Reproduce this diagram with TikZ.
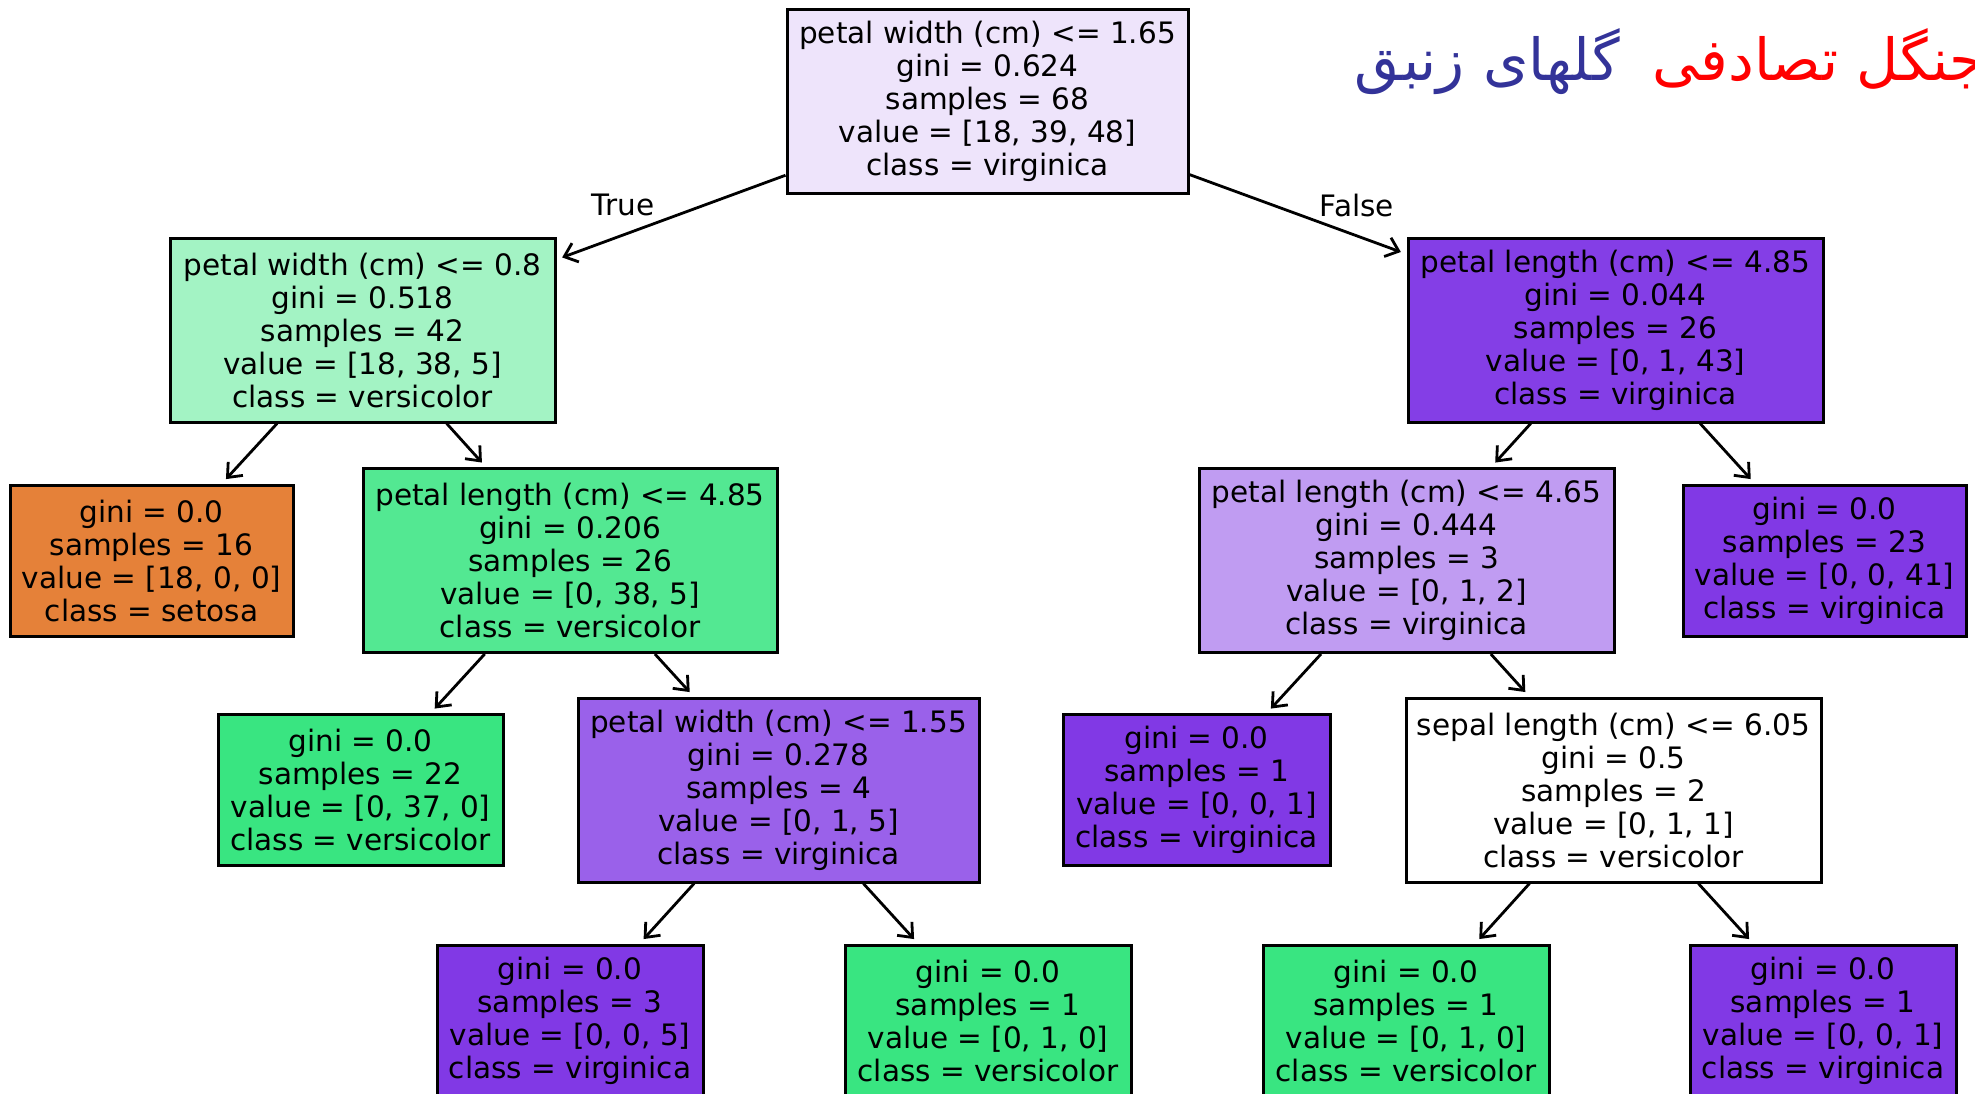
\documentclass[tikz,border=0pt]{standalone}
\usepackage{fontspec}
\setmainfont{DejaVu Sans}
\newfontfamily\arabicfont[Script=Arabic]{DejaVu Sans}
\TeXXeTstate=1
\usetikzlibrary{arrows.meta}

% fill colours of the tree nodes (class colour blended with white by purity)
\definecolor{cRoot}{RGB}{238,228,251}
\definecolor{cVersLight}{RGB}{163,243,196}
\definecolor{cVersMid}{RGB}{83,232,146}
\definecolor{cVers}{RGB}{57,229,129}
\definecolor{cVirg}{RGB}{129,57,229}
\definecolor{cVirgR}{RGB}{132,62,230}
\definecolor{cVirgMid}{RGB}{154,97,234}
\definecolor{cVirgLight}{RGB}{192,156,242}
\definecolor{cSetosa}{RGB}{229,129,57}
\definecolor{titleRed}{RGB}{255,0,0}
\definecolor{titleBlue}{RGB}{51,51,153}

\begin{document}
\begin{tikzpicture}[x=1pt,y=-1pt,
  treebox/.style={draw=black, line width=3pt, inner sep=0pt, align=center,
                  font=\fontsize{29.5}{33}\selectfont},
  split/.style={treebox, minimum height=184pt},
  leaf/.style={treebox, minimum height=151pt},
  edge/.style={-{Straight Barb[length=12pt,width=20pt,line width=2.8pt]},
               line width=2.8pt, shorten >=6pt},
  lbl/.style={font=\fontsize{29.5}{33}\selectfont},
  heading/.style={inner sep=0pt, font=\fontsize{58}{70}\arabicfont}
]
\useasboundingbox (0,0) rectangle (1975,1093);
\clip (0,0) rectangle (1975,1093);

% heading
\node[heading, text=titleRed, anchor=base west] (hRed) at (1652,80)
  {\beginR جنگل تصادفی\endR};
\node[heading, text=titleBlue, anchor=base east] (hBlue) at (1620,80)
  {\beginR گلهای زنبق\endR};

% level 0
\node[split, fill=cRoot, minimum width=401pt] (root) at (987.5,101)
  {petal width (cm) <= 1.65\\gini = 0.624\\samples = 68\\value = [18, 39, 48]\\class = virginica};

% level 1
\node[split, fill=cVersLight, minimum width=385pt] (l1) at (362.5,330)
  {petal width (cm) <= 0.8\\gini = 0.518\\samples = 42\\value = [18, 38, 5]\\class = versicolor};
\node[split, fill=cVirgR, minimum width=415pt] (r1) at (1615.5,330)
  {petal length (cm) <= 4.85\\gini = 0.044\\samples = 26\\value = [0, 1, 43]\\class = virginica};

% level 2
\node[leaf, fill=cSetosa, minimum width=283pt] (setosa) at (151.5,560.5)
  {gini = 0.0\\samples = 16\\value = [18, 0, 0]\\class = setosa};
\node[split, fill=cVersMid, minimum width=414pt] (pla) at (570,560.5)
  {petal length (cm) <= 4.85\\gini = 0.206\\samples = 26\\value = [0, 38, 5]\\class = versicolor};
\node[split, fill=cVirgLight, minimum width=415pt] (plb) at (1406.5,560.5)
  {petal length (cm) <= 4.65\\gini = 0.444\\samples = 3\\value = [0, 1, 2]\\class = virginica};
\node[leaf, fill=cVirg, minimum width=283pt] (lf23) at (1824.5,560.5)
  {gini = 0.0\\samples = 23\\value = [0, 0, 41]\\class = virginica};

% level 3
\node[leaf, fill=cVers, minimum width=285pt] (lf22) at (360.5,790)
  {gini = 0.0\\samples = 22\\value = [0, 37, 0]\\class = versicolor};
\node[split, fill=cVirgMid, minimum width=401pt] (pw) at (778.5,790)
  {petal width (cm) <= 1.55\\gini = 0.278\\samples = 4\\value = [0, 1, 5]\\class = virginica};
\node[leaf, fill=cVirg, minimum width=267pt] (lf1a) at (1196.5,790)
  {gini = 0.0\\samples = 1\\value = [0, 0, 1]\\class = virginica};
\node[split, fill=white, minimum width=415pt] (sl) at (1613.5,790)
  {sepal length (cm) <= 6.05\\gini = 0.5\\samples = 2\\value = [0, 1, 1]\\class = versicolor};

% level 4
\node[leaf, fill=cVirg, minimum width=266pt] (b1) at (570,1020.5)
  {gini = 0.0\\samples = 3\\value = [0, 0, 5]\\class = virginica};
\node[leaf, fill=cVers, minimum width=286pt] (b2) at (988,1020.5)
  {gini = 0.0\\samples = 1\\value = [0, 1, 0]\\class = versicolor};
\node[leaf, fill=cVers, minimum width=286pt] (b3) at (1406,1020.5)
  {gini = 0.0\\samples = 1\\value = [0, 1, 0]\\class = versicolor};
\node[leaf, fill=cVirg, minimum width=266pt] (b4) at (1823,1020.5)
  {gini = 0.0\\samples = 1\\value = [0, 0, 1]\\class = virginica};

% branch labels
\node[lbl] (tTrue) at (623,205) {True};
\node[lbl] (tFalse) at (1357,205) {False};

% connectors
\draw[edge] (root) -- (l1);
\draw[edge] (root) -- (r1);
\draw[edge] (l1) -- (setosa);
\draw[edge] (l1) -- (pla);
\draw[edge] (r1) -- (plb);
\draw[edge] (r1) -- (lf23);
\draw[edge] (pla) -- (lf22);
\draw[edge] (pla) -- (pw);
\draw[edge] (plb) -- (lf1a);
\draw[edge] (plb) -- (sl);
\draw[edge] (pw) -- (b1);
\draw[edge] (pw) -- (b2);
\draw[edge] (sl) -- (b3);
\draw[edge] (sl) -- (b4);
\end{tikzpicture}
\end{document}
